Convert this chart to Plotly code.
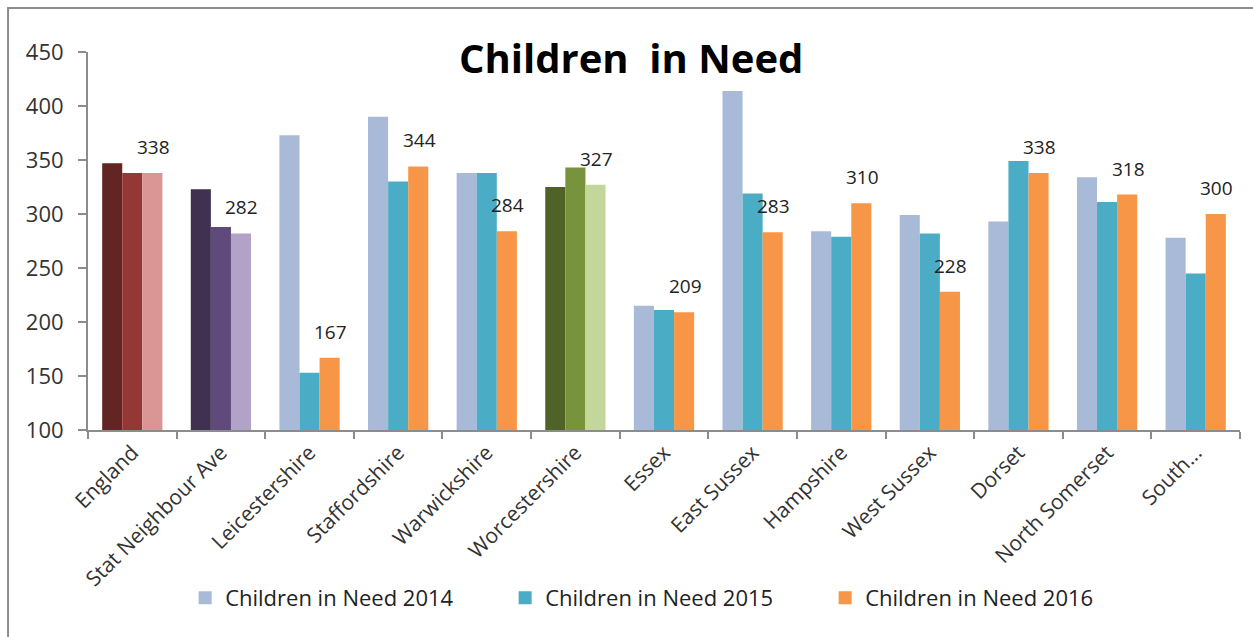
import plotly.graph_objects as go

categories = ["England", "Stat Neighbour Ave", "Leicestershire", "Staffordshire",
              "Warwickshire", "Worcestershire", "Essex", "East Sussex", "Hampshire",
              "West Sussex", "Dorset", "North Somerset", "South..."]
cin_2014 = [347, 323, 373, 390, 338, 325, 215, 414, 284, 299, 293, 334, 278]
cin_2015 = [338, 288, 153, 330, 338, 343, 211, 319, 279, 282, 349, 311, 245]
cin_2016 = [338, 282, 167, 344, 284, 327, 209, 283, 310, 228, 338, 318, 300]
y_ticks = [100, 150, 200, 250, 300, 350, 400, 450]

base_colors = ["#A9BAD8", "#4BACC6", "#F79646"]
special = {
    "England": ["#632523", "#953735", "#D99694"],
    "Stat Neighbour Ave": ["#403151", "#604A7B", "#B3A2C7"],
    "Worcestershire": ["#4F6228", "#77933C", "#C3D69B"],
}

FONT = "'Open Sans', sans-serif"

fig = go.Figure()
series = [("Children in Need 2014", cin_2014), ("Children in Need 2015", cin_2015),
          ("Children in Need 2016", cin_2016)]
for i, (name, vals) in enumerate(series):
    cols = [special[c][i] if c in special else base_colors[i] for c in categories]
    fig.add_trace(go.Bar(x=categories, y=vals, name=name,
                         marker=dict(color=cols, line=dict(width=0)),
                         showlegend=False))
for i, (name, vals) in enumerate(series):
    # legend proxy with the base colour (does not take a bar slot)
    fig.add_trace(go.Scatter(x=[None], y=[None], name=name, mode="markers",
                             marker=dict(color=base_colors[i], symbol="square", size=13),
                             showlegend=True))

annotations = []
for c, v in zip(categories, cin_2016):
    annotations.append(dict(x=c, y=v, xref="x", yref="y", text=str(v),
                            showarrow=False, xshift=21, yshift=11, yanchor="bottom",
                            font=dict(family=FONT, size=19, color="#222222")))
annotations.append(dict(x=0.471, y=1.0, xref="paper", yref="paper",
                        text="<b>Children  in Need</b>", showarrow=False,
                        xanchor="center", yanchor="middle", yshift=-5,
                        font=dict(family=FONT, size=40, color="#000000")))

fig.update_layout(
    width=1253, height=637,
    margin=dict(l=88, r=13, t=52, b=207),
    plot_bgcolor="white", paper_bgcolor="white",
    barmode="group", bargap=0.32, bargroupgap=0,
    font=dict(family=FONT, size=18, color="#333333"),
    annotations=annotations,
    legend=dict(orientation="h", x=0.501, xanchor="center", y=-0.444, yanchor="middle",
                font=dict(family=FONT, size=22, color="#222222"),
                itemwidth=30, entrywidth=275, traceorder="normal"),
    shapes=[dict(type="rect", xref="paper", yref="paper",
                 x0=-0.0694, x1=1.2, y0=-1.0, y1=1.1164,
                 line=dict(color="#8C8C8C", width=2), layer="below")],
)
fig.update_xaxes(showline=True, linecolor="#8C8C8C", linewidth=2, ticks="outside",
                 tickson="boundaries", ticklen=7, tickcolor="#8C8C8C", tickwidth=2,
                 tickangle=-45, tickfont=dict(family=FONT, size=21, color="#333333"),
                 showgrid=False, automargin=False)
fig.update_yaxes(range=[100, 450], tickvals=y_ticks, showline=True, linecolor="#8C8C8C",
                 linewidth=2, ticks="outside", ticklen=8, tickcolor="#8C8C8C", tickwidth=2,
                 showgrid=False, zeroline=False,
                 tickfont=dict(family=FONT, size=22, color="#333333"),
                 ticklabelstandoff=10, automargin=False)

fig.write_html("out.html")
